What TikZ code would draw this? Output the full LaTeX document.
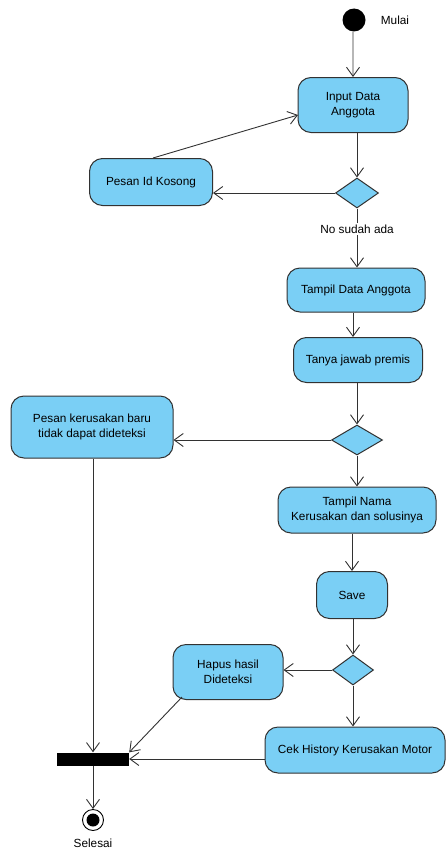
\documentclass[tikz,border=0pt]{standalone}
\usepackage{fontspec}
\setmainfont{Liberation Sans}
\usetikzlibrary{arrows.meta,shapes.geometric}
\definecolor{actfill}{RGB}{122,207,245}
\definecolor{actline}{RGB}{50,50,50}
\begin{document}
\begin{tikzpicture}[x=1pt,y=-1pt,
  every node/.style={font=\fontsize{11.8}{15}\selectfont},
  action/.style={draw=actline,fill=actfill,line width=1pt,rounded corners=13pt,
    align=center,inner sep=1pt},
  decision/.style={draw=actline,fill=actfill,line width=1pt,diamond,inner sep=0pt},
  flow/.style={draw=actline,line width=0.9pt,-{Straight Barb[length=9pt,width=13pt,line width=0.9pt]}},
  plain/.style={draw=actline,line width=0.9pt}]
\useasboundingbox (0,0) rectangle (446,851);

% initial and final states
\node[circle,fill=black,minimum size=23pt,inner sep=0pt] (start) at (354,20) {};
\node (mulai) at (395,20) {Mulai};
\node[circle,draw=black,line width=0.9pt,fill=white,minimum size=21pt,inner sep=0pt] (end) at (93,820) {};
\node[circle,fill=black,minimum size=13pt,inner sep=0pt] (endin) at (end) {};
\node (selesai) at (93,843) {Selesai};

% actions
\node[action,minimum width=110pt,minimum height=55pt] (in) at (353,105) {Input Data\\Anggota};
\node[action,minimum width=123pt,minimum height=47pt] (pik) at (151,182) {Pesan Id Kosong};
\node[action,minimum width=138pt,minimum height=44pt] (tda) at (356,290) {Tampil Data Anggota};
\node[action,minimum width=129pt,minimum height=45pt] (tjp) at (358,360) {Tanya jawab premis};
\node[action,minimum width=162pt,minimum height=62pt] (pkb) at (92,427) {Pesan kerusakan baru\\tidak dapat dideteksi};
\node[action,minimum width=158pt,minimum height=46pt] (tnk) at (357,510) {Tampil Nama\\Kerusakan dan solusinya};
\node[action,minimum width=71pt,minimum height=47pt] (save) at (352,595) {Save};
\node[action,minimum width=110pt,minimum height=55pt] (hh) at (228,672) {Hapus hasil\\Dideteksi};
\node[action,minimum width=180pt,minimum height=46pt] (cek) at (355,750) {Cek History Kerusakan Motor};

% decisions
\node[decision,minimum width=43pt,minimum height=30pt] (d1) at (357,193) {};
\node[decision,minimum width=51pt,minimum height=30pt] (d2) at (357,440) {};
\node[decision,minimum width=41pt,minimum height=30pt] (d3) at (353,670) {};

% join bar
\node[fill=black,minimum width=72pt,minimum height=13pt,inner sep=0pt] (bar) at (93,759) {};

% flows
\draw[flow] (start) -- (in.south |- start.south) -- (in.north);
\draw[flow] (in.south -| d1) -- (d1.north);
\draw[flow] (d1.west) -- (d1.west -| pik.east);
\coordinate (piktop) at (153,158);
\draw[flow] (piktop) -- (298,115);
\draw[flow] (d1.south) -- (tda.north -| d1);
\node[fill=white,inner sep=1.5pt] (guard) at (357,229) {No sudah ada};
\draw[flow] (tda.south -| 353,0) -- (tjp.north -| 353,0);
\draw[flow] (tjp.south -| d2) -- (d2.north);
\draw[flow] (d2.west) -- (d2.west -| pkb.east);
\draw[flow] (d2.south) -- (tnk.north -| d2);
\draw[flow] (tnk.south -| save) -- (save.north);
\draw[flow] (save.south -| d3) -- (d3.north);
\draw[flow] (d3.west) -- (hh.east |- d3.west);
\draw[flow] (d3.south) -- (cek.north -| d3);
\draw[flow] (pkb.south -| bar) -- (bar.north);
\coordinate (hhfoot) at (182,697);
\draw[flow] (hhfoot) -- (bar.north east);
\draw[flow] (cek.west |- bar) -- (bar.east);
\draw[flow] (bar.south) -- (end.north);
\end{tikzpicture}
\end{document}
